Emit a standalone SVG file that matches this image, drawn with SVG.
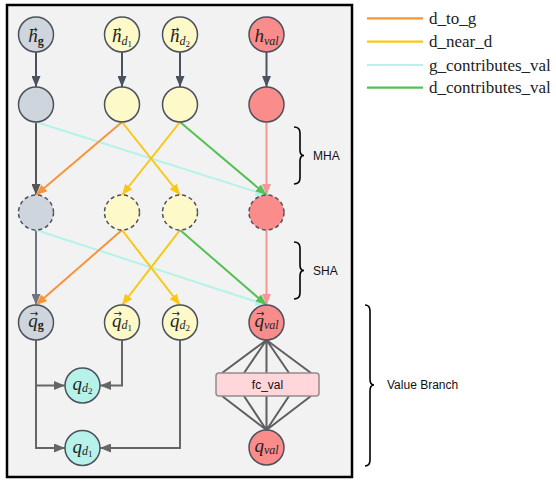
<svg xmlns="http://www.w3.org/2000/svg" width="556" height="481" viewBox="0 0 556 481">
<style>
.nd{stroke:#4b525c;stroke-width:1.5}
.g{fill:#cfd5dd}.y{fill:#fdf9c8}.r{fill:#fa8c8c}.c{fill:#b6f2e9}
.dash{stroke-dasharray:4,3}
.m{font-family:"Liberation Serif","DejaVu Serif",serif;font-style:italic;font-size:19px;fill:#222}
.s{font-size:12px}
.ss{font-size:9px;font-style:normal}
.bf{font-style:normal;font-weight:bold}
.v{font-family:"DejaVu Sans",sans-serif;font-size:10px;fill:#222;text-anchor:middle}
.lab{font-family:"Liberation Sans",Arial,sans-serif;font-size:12px;fill:#111}
.leg{font-family:"Liberation Serif","Times New Roman",serif;font-size:17px;fill:#222}
.e{fill:none;stroke-width:2}
.brace{fill:none;stroke:#000;stroke-width:1.6}
</style>
<defs>
<marker id="aD" markerUnits="userSpaceOnUse" markerWidth="11" markerHeight="9" refX="11" refY="4.5" orient="auto"><path d="M0,0 L11,4.5 L0,9 z" fill="#4a5261"/></marker>
<marker id="aG" markerUnits="userSpaceOnUse" markerWidth="11" markerHeight="9" refX="11" refY="4.5" orient="auto"><path d="M0,0 L11,4.5 L0,9 z" fill="#6e7480"/></marker>
<marker id="aG2" markerUnits="userSpaceOnUse" markerWidth="11" markerHeight="9" refX="11" refY="4.5" orient="auto"><path d="M0,0 L11,4.5 L0,9 z" fill="#555"/></marker>
<marker id="aO" markerUnits="userSpaceOnUse" markerWidth="11" markerHeight="9" refX="11" refY="4.5" orient="auto"><path d="M0,0 L11,4.5 L0,9 z" fill="#f7943a"/></marker>
<marker id="aY" markerUnits="userSpaceOnUse" markerWidth="11" markerHeight="9" refX="11" refY="4.5" orient="auto"><path d="M0,0 L11,4.5 L0,9 z" fill="#f9c714"/></marker>
<marker id="aC" markerUnits="userSpaceOnUse" markerWidth="11" markerHeight="9" refX="11" refY="4.5" orient="auto"><path d="M0,0 L11,4.5 L0,9 z" fill="#b5f3e8"/></marker>
<marker id="aN" markerUnits="userSpaceOnUse" markerWidth="11" markerHeight="9" refX="11" refY="4.5" orient="auto"><path d="M0,0 L11,4.5 L0,9 z" fill="#55c055"/></marker>
<marker id="aP" markerUnits="userSpaceOnUse" markerWidth="11" markerHeight="9" refX="11" refY="4.5" orient="auto"><path d="M0,0 L11,4.5 L0,9 z" fill="#f79696"/></marker>
<marker id="aL" markerUnits="userSpaceOnUse" markerWidth="11" markerHeight="9" refX="11" refY="4.5" orient="auto"><path d="M0,0 L11,4.5 L0,9 z" fill="#666"/></marker>
</defs>
<rect x="7" y="5" width="345" height="472" fill="#f2f2f2" stroke="#000" stroke-width="2.5"/>
<g id="connectors">
<g stroke="#4a5261" class="e" marker-end="url(#aD)">
<line x1="36" y1="52" x2="36" y2="87"/>
<line x1="122" y1="52" x2="122" y2="87"/>
<line x1="180" y1="52" x2="180" y2="87"/>
<line x1="266.5" y1="52" x2="266.5" y2="87"/>
</g>
<line class="e" stroke="#555" x1="36" y1="122" x2="36" y2="195" marker-end="url(#aG2)"/>
<line class="e" stroke="#6e7480" x1="36" y1="230" x2="36" y2="305" marker-end="url(#aG)"/>
<line class="e" stroke="#f79696" x1="266.5" y1="122" x2="266.5" y2="195" marker-end="url(#aP)"/>
<line class="e" stroke="#f79696" x1="266.5" y1="230" x2="266.5" y2="305" marker-end="url(#aP)"/>
<line class="e" stroke="#b5f3e8" x1="36" y1="122" x2="266.5" y2="195" marker-end="url(#aC)"/>
<line class="e" stroke="#b5f3e8" x1="36" y1="230" x2="266.5" y2="305" marker-end="url(#aC)"/>
<line class="e" stroke="#f7943a" x1="122" y1="122" x2="36" y2="195" marker-end="url(#aO)"/>
<line class="e" stroke="#f7943a" x1="122" y1="230" x2="36" y2="305" marker-end="url(#aO)"/>
<line class="e" stroke="#f9c714" x1="122" y1="122" x2="180" y2="195" marker-end="url(#aY)"/>
<line class="e" stroke="#f9c714" x1="180" y1="122" x2="122" y2="195" marker-end="url(#aY)"/>
<line class="e" stroke="#f9c714" x1="122" y1="230" x2="180" y2="305" marker-end="url(#aY)"/>
<line class="e" stroke="#f9c714" x1="180" y1="230" x2="122" y2="305" marker-end="url(#aY)"/>
<line class="e" stroke="#55c055" x1="180" y1="122" x2="266.5" y2="195" marker-end="url(#aN)"/>
<line class="e" stroke="#55c055" x1="180" y1="230" x2="266.5" y2="305" marker-end="url(#aN)"/>
<g stroke="#666" class="e" marker-end="url(#aL)">
<path d="M36,340 V448 H65"/>
<path d="M36,385.5 H65"/>
<path d="M122,340 V385.5 H100"/>
<path d="M180,340 V448 H100"/>
</g>
<g stroke="#5f5f5f" stroke-width="2" fill="none">
<path d="M266.5,340 L222,373 M266.5,340 L244,373 M266.5,340 L266.5,373 M266.5,340 L289,373 M266.5,340 L311,373"/>
<path d="M266.5,430 L222,396 M266.5,430 L244,396 M266.5,430 L266.5,396 M266.5,430 L289,396 M266.5,430 L311,396"/>
</g>
</g>
<g id="h_g"><circle class="nd g" cx="36" cy="34.5" r="17.5"/><text class="m" x="28.3" y="42">h<tspan class="s bf" dy="3">g</tspan></text><text class="v" x="33.5" y="32.5">→</text></g>
<g id="h_d1"><circle class="nd y" cx="122" cy="34.5" r="17.5"/><text class="m" x="112" y="42">h<tspan class="s" dy="3">d</tspan><tspan class="ss" dy="2">1</tspan></text><text class="v" x="117.2" y="32.5">→</text></g>
<g id="h_d2"><circle class="nd y" cx="180" cy="34.5" r="17.5"/><text class="m" x="170" y="42">h<tspan class="s" dy="3">d</tspan><tspan class="ss" dy="2">2</tspan></text><text class="v" x="175.2" y="32.5">→</text></g>
<g id="h_val"><circle class="nd r" cx="266.5" cy="34.5" r="17.5"/><text class="m" x="254.5" y="42">h<tspan class="s" dy="3">val</tspan></text></g>
<g id="g1"><circle class="nd g" cx="36" cy="104.5" r="17.5"/></g>
<g id="d1_1"><circle class="nd y" cx="122" cy="104.5" r="17.5"/></g>
<g id="d2_1"><circle class="nd y" cx="180" cy="104.5" r="17.5"/></g>
<g id="val1"><circle class="nd r" cx="266.5" cy="104.5" r="17.5"/></g>
<g id="g2"><circle class="nd g dash" cx="36" cy="212.5" r="17.5"/></g>
<g id="d1_2"><circle class="nd y dash" cx="122" cy="212.5" r="17.5"/></g>
<g id="d2_2"><circle class="nd y dash" cx="180" cy="212.5" r="17.5"/></g>
<g id="val2"><circle class="nd r dash" cx="266.5" cy="212.5" r="17.5"/></g>
<g id="q_g"><circle class="nd g" cx="36" cy="322.5" r="17.5"/><text class="m" x="28.3" y="327">q<tspan class="s bf" dy="2">g</tspan></text><text class="v" x="34" y="317">→</text></g>
<g id="q_d1v"><circle class="nd y" cx="122" cy="322.5" r="17.5"/><text class="m" x="112" y="327">q<tspan class="s" dy="2">d</tspan><tspan class="ss" dy="2">1</tspan></text><text class="v" x="117.7" y="317">→</text></g>
<g id="q_d2v"><circle class="nd y" cx="180" cy="322.5" r="17.5"/><text class="m" x="170" y="327">q<tspan class="s" dy="2">d</tspan><tspan class="ss" dy="2">2</tspan></text><text class="v" x="175.7" y="317">→</text></g>
<g id="q_valv"><circle class="nd r" cx="266.5" cy="322.5" r="17.5"/><text class="m" x="254.5" y="327">q<tspan class="s" dy="2">val</tspan></text><text class="v" x="260.2" y="317">→</text></g>
<g id="q_d2"><circle class="nd c" cx="82.5" cy="385.5" r="17.5"/><text class="m" x="72.5" y="390">q<tspan class="s" dy="2">d</tspan><tspan class="ss" dy="2">2</tspan></text></g>
<g id="q_d1"><circle class="nd c" cx="82.5" cy="448" r="17.5"/><text class="m" x="72.5" y="452.5">q<tspan class="s" dy="2">d</tspan><tspan class="ss" dy="2">1</tspan></text></g>
<g id="fc_val"><rect x="216" y="373" width="103" height="23" rx="3" fill="#ffd6d9" stroke="#968a8e" stroke-width="1.5"/><text class="lab" x="267.5" y="389" text-anchor="middle" font-size="12.5">fc_val</text></g>
<g id="q_val"><circle class="nd r" cx="266.5" cy="447.5" r="17.5"/><text class="m" x="254.5" y="452">q<tspan class="s" dy="2">val</tspan></text></g>
<g id="braces">
<path class="brace" d="M294,127 Q300,127 300,133 V150 Q300,155.5 304,155.5 Q300,155.5 300,161 V178 Q300,184 294,184"/>
<text class="lab" x="313" y="159.5">MHA</text>
<path class="brace" d="M294,242 Q300,242 300,248 V265 Q300,270.5 304,270.5 Q300,270.5 300,276 V293 Q300,299 294,299"/>
<text class="lab" x="313" y="274.5">SHA</text>
<path class="brace" d="M365,305 Q370,305 370,311 V379 Q370,385 374,385 Q370,385 370,391 V460 Q370,466 365,466"/>
<text class="lab" x="387" y="389">Value Branch</text>
</g>
<g id="legend">
<line x1="367" y1="18.3" x2="423" y2="18.3" stroke="#f7943a" stroke-width="2.2"/>
<line x1="367" y1="41.7" x2="423" y2="41.7" stroke="#f9c714" stroke-width="2.2"/>
<line x1="367" y1="65" x2="423" y2="65" stroke="#b5f3e8" stroke-width="2.2"/>
<line x1="367" y1="87.7" x2="423" y2="87.7" stroke="#55c055" stroke-width="2.2"/>
<text class="leg" x="429" y="24">d_to_g</text>
<text class="leg" x="429" y="47.4">d_near_d</text>
<text class="leg" x="429" y="70.7">g_contributes_val</text>
<text class="leg" x="429" y="93.4">d_contributes_val</text>
</g>
</svg>
